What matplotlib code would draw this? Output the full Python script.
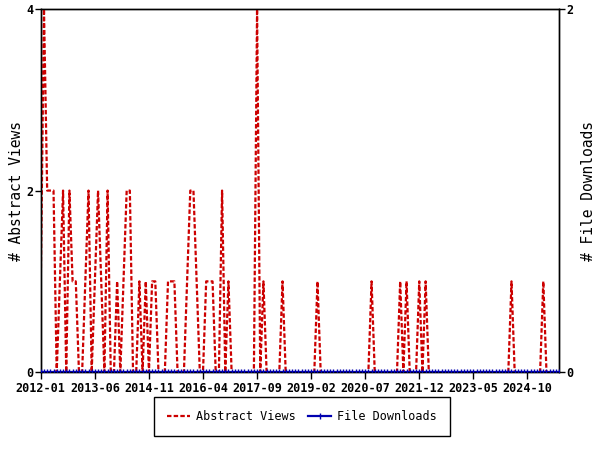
import matplotlib
matplotlib.use("Agg")
import matplotlib.pyplot as plt

# monthly counts, 2012-01 .. 2025-08
start_year = 2012
abstract_views = [
    1, 4, 2, 2, 2, 0, 1, 2, 0, 2, 1, 1,   # 2012
    0, 0, 1, 2, 0, 1, 2, 1, 0, 2, 0, 0,   # 2013
    1, 0, 1, 2, 2, 0, 0, 1, 0, 1, 0, 1,   # 2014
    1, 0, 0, 0, 1, 1, 1, 0, 0, 0, 1, 2,   # 2015
    2, 1, 0, 0, 1, 1, 1, 0, 0, 2, 0, 1,   # 2016
    0, 0, 0, 0, 0, 0, 0, 0, 4, 0, 1, 0,   # 2017
    0, 0, 0, 0, 1, 0, 0, 0, 0, 0, 0, 0,   # 2018
    0, 0, 0, 1, 0, 0, 0, 0, 0, 0, 0, 0,   # 2019
    0, 0, 0, 0, 0, 0, 0, 0, 1, 0, 0, 0,   # 2020
    0, 0, 0, 0, 0, 1, 0, 1, 0, 0, 0, 1,   # 2021
    0, 1, 0, 0, 0, 0, 0, 0, 0, 0, 0, 0,   # 2022
    0, 0, 0, 0, 0, 0, 0, 0, 0, 0, 0, 0,   # 2023
    0, 0, 0, 0, 1, 0, 0, 0, 0, 0, 0, 0,   # 2024
    0, 0, 1, 0, 0, 0, 0, 0,               # 2025
]
file_downloads = [
    0, 0, 0, 0, 0, 0, 0, 0, 0, 0, 0, 0,
    0, 0, 0, 0, 0, 0, 0, 0, 0, 0, 0, 0,
    0, 0, 0, 0, 0, 0, 0, 0, 0, 0, 0, 0,
    0, 0, 0, 0, 0, 0, 0, 0, 0, 0, 0, 0,
    0, 0, 0, 0, 0, 0, 0, 0, 0, 0, 0, 0,
    0, 0, 0, 0, 0, 0, 0, 0, 0, 0, 0, 0,
    0, 0, 0, 0, 0, 0, 0, 0, 0, 0, 0, 0,
    0, 0, 0, 0, 0, 0, 0, 0, 0, 0, 0, 0,
    0, 0, 0, 0, 0, 0, 0, 0, 0, 0, 0, 0,
    0, 0, 0, 0, 0, 0, 0, 0, 0, 0, 0, 0,
    0, 0, 0, 0, 0, 0, 0, 0, 0, 0, 0, 0,
    0, 0, 0, 0, 0, 0, 0, 0, 0, 0, 0, 0,
    0, 0, 0, 0, 0, 0, 0, 0, 0, 0, 0, 0,
    0, 0, 0, 0, 0, 0, 0, 0,
]
tick_labels = ["2012-01", "2013-06", "2014-11", "2016-04", "2017-09",
               "2019-02", "2020-07", "2021-12", "2023-05", "2024-10"]
left_ticks = [0, 2, 4]
right_ticks = [0, 2]

months = list(range(len(abstract_views)))
tick_pos = [(int(t[:4]) - start_year) * 12 + int(t[5:]) - 1 for t in tick_labels]

plt.rcParams["font.family"] = "DejaVu Sans Mono"
plt.rcParams["lines.scale_dashes"] = False

fig = plt.figure(figsize=(6, 4.5), dpi=100)
ax = fig.add_axes([0.068, 0.173, 0.864, 0.807])
ax2 = ax.twinx()

red = "#CC0000"
blue = "#0000B0"

l1, = ax.plot(months, abstract_views, color=red, linewidth=1.6,
              dashes=(3.2, 1.6), label="Abstract Views", zorder=3)
l2, = ax2.plot(months, file_downloads, color=blue, linewidth=1.6,
               marker="|", markersize=4.5, markeredgewidth=1.0,
               label="File Downloads", zorder=4)

ax.set_xlim(months[0], months[-1])
ax.set_ylim(0, 4)
ax2.set_ylim(0, 2)

ax.set_xticks(tick_pos)
ax.set_xticklabels(tick_labels, fontsize=8.5, fontweight="bold")
ax.set_yticks(left_ticks)
ax.set_yticklabels([str(v) for v in left_ticks], fontsize=8.5, fontweight="bold")
ax2.set_yticks(right_ticks)
ax2.set_yticklabels([str(v) for v in right_ticks], fontsize=8.5, fontweight="bold")

ax.tick_params(axis="x", direction="out", length=5, width=1, pad=2)
ax.tick_params(axis="y", direction="out", length=4, width=1, pad=1)
ax2.tick_params(axis="y", direction="out", length=4, width=1, pad=1)

for a in (ax, ax2):
    for s in a.spines.values():
        s.set_linewidth(1)
        s.set_color("black")

ax.set_ylabel("# Abstract Views", fontsize=10.5)
ax2.set_ylabel("# File Downloads", fontsize=10.5, rotation=90)
ax.yaxis.set_label_coords(-0.032, 0.5)
ax2.yaxis.set_label_coords(1.042, 0.5)

leg = fig.legend([l1, l2], ["Abstract Views", "File Downloads"],
                 loc="center", bbox_to_anchor=(0.503, 0.074), ncol=2,
                 fontsize=8.5, fancybox=False, framealpha=1, edgecolor="black",
                 handlelength=2.0, borderpad=1.1, columnspacing=1.0,
                 handletextpad=0.5)
leg.get_frame().set_linewidth(1)

fig.savefig("out.png", dpi=100)
